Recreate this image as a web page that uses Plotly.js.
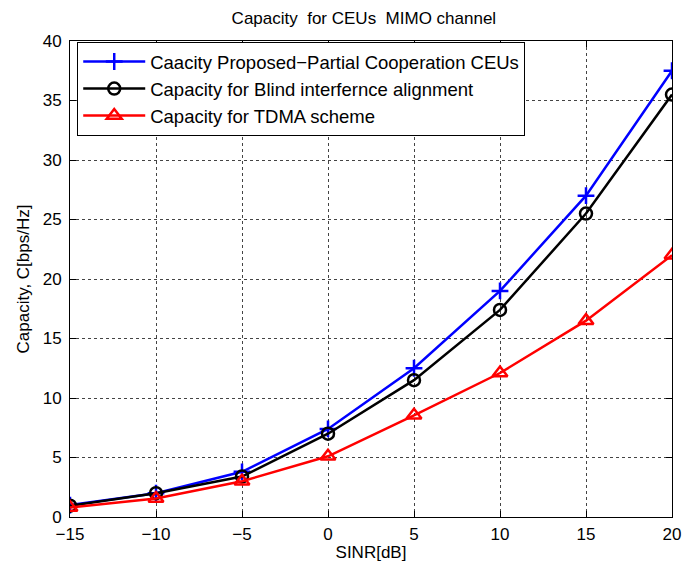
<!DOCTYPE html>
<html><head><meta charset="utf-8">
<script src="https://cdn.plot.ly/plotly-3.0.1.min.js"></script>
<style>body{margin:0;background:#fff}#c{width:684px;height:567px}</style>
</head><body><div id="c"></div>
<script>
const sinr = [-15, -10, -5, 0, 5, 10, 15, 20];
const proposed = [1.0, 2.0, 3.8, 7.4, 12.5, 19.0, 27.0, 37.5];
const blindIA = [0.95, 2.0, 3.4, 7.0, 11.5, 17.4, 25.5, 35.5];
const tdma = [0.8, 1.55, 3.0, 5.1, 8.55, 12.1, 16.5, 22.0];
const names = ["Caacity Proposed\u2212Partial Cooperation CEUs", "Capacity for Blind interfernce alignment", "Capacity for TDMA scheme"];
const font = "Liberation Sans, Arial, sans-serif";
const traces = [
  {x: sinr, y: proposed, name: names[0], mode: "lines+markers", line: {color: "#0000ff", width: 2.5}, marker: {symbol: "cross-thin", size: 12, line: {color: "#0000ff", width: 2.5}}},
  {x: sinr, y: blindIA, name: names[1], mode: "lines+markers", line: {color: "#000000", width: 2.5}, marker: {symbol: "circle-open", size: 12, line: {color: "#000000", width: 2.5}}},
  {x: sinr, y: tdma, name: names[2], mode: "lines+markers", line: {color: "#ff0000", width: 2.5}, marker: {symbol: "triangle-up-open", size: 13, line: {color: "#ff0000", width: 2.5}}}
];
const ax = {showgrid: true, gridcolor: "#444", griddash: "dot", gridwidth: 1, zeroline: false, showline: true, mirror: "ticks", linecolor: "#000", linewidth: 1, ticks: "inside", ticklen: 6, tickcolor: "#000", tickfont: {size: 17, color: "#000", family: font}};
const layout = {
  width: 684, height: 567,
  margin: {l: 70, r: 12, t: 41, b: 50},
  paper_bgcolor: "#fff", plot_bgcolor: "#fff",
  font: {family: font, color: "#000", size: 17},
  title: {text: "Capacity  for CEUs  MIMO channel", x: 0.532, xanchor: "center", y: 0.968, yanchor: "middle", font: {size: 17, family: font}},
  xaxis: Object.assign({}, ax, {range: [-15, 20], dtick: 5, tick0: -15, ticklabelstandoff: 2, title: {text: "SINR[dB]", standoff: 2, font: {size: 17}}}),
  yaxis: Object.assign({}, ax, {range: [0, 40], dtick: 5, tick0: 0, ticklabelstandoff: 4, title: {text: "Capacity, C[bps/Hz]", standoff: 8, font: {size: 17}}}),
  legend: {x: 0.012, y: 0.998, xanchor: "left", yanchor: "top", bgcolor: "#fff", bordercolor: "#000", borderwidth: 1, font: {size: 18.5, family: font}, tracegroupgap: 0, itemwidth: 62},
  showlegend: true
};
Plotly.newPlot("c", traces, layout, {displayModeBar: false, staticPlot: true});
</script></body></html>
